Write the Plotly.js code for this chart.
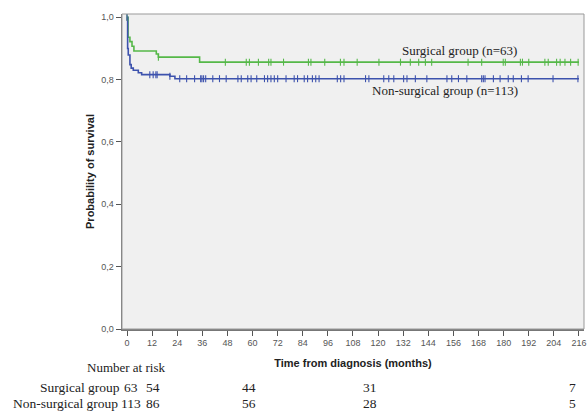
<!DOCTYPE html>
<html><head><meta charset="utf-8">
<script src="https://cdn.plot.ly/plotly-3.0.1.min.js"></script>
<style>html,body{margin:0;padding:0;background:#fff}#c{width:587px;height:411px}</style>
</head><body><div id="c"></div>
<script>
// Kaplan-Meier step curves (time in months, survival probability)
const surgTime = [0, 0.5, 1.4, 2.4, 3.3, 14, 15, 34.7, 216];
const surgSurv = [1, 0.936, 0.922, 0.907, 0.892, 0.882, 0.872, 0.856, 0.856];
const nonTime = [0, 0.3, 0.6, 1.4, 2, 3, 5.4, 7, 20.5, 22.9, 216];
const nonSurv = [1, 0.90, 0.879, 0.848, 0.837, 0.83, 0.822, 0.816, 0.811, 0.803, 0.803];
// censoring marks (months)
const surgCens = [0, 15, 47, 57, 58.5, 62.8, 67.7, 68.8, 74.8, 86.7, 87.9, 94.5, 102, 103.7, 110, 120.4, 130.7, 135.4, 139.4, 142.6, 145.6, 163, 169.5, 179.8, 180.8, 188, 189, 192, 199.7, 201.3, 205.3, 207, 209.3, 212, 215.6];
const nonCens = [0, 10.9, 12.5, 13.8, 14.4, 20.5, 25.2, 28.5, 32.3, 35.2, 35.8, 36.6, 37.6, 41, 44.2, 47.4, 53, 54.6, 57.7, 59.3, 62, 65.7, 67.2, 68.8, 70.4, 72, 76, 79.9, 81.5, 84.7, 86.3, 88.6, 90.2, 91.8, 100.5, 102.1, 103.7, 114, 115.6, 122.7, 125.1, 127.5, 132.2, 133.8, 137.8, 143.3, 152.9, 155.2, 158.4, 162.4, 169.5, 170.3, 171.1, 175.1, 178.3, 182.2, 184.6, 188.5, 191.7, 203.6, 215.5];
// number at risk table
const riskTimes = [2.0, 12.2, 58.5, 116.3, 213];
const riskSurg = [63, 54, 44, 31, 7];
const riskNon = [113, 86, 56, 28, 5];
const groupNames = ['Surgical group', 'Non-surgical group'];
const xTicks = [0,12,24,36,48,60,72,84,96,108,120,132,144,156,168,180,192,204,216];
const yTicks = [0,0.2,0.4,0.6,0.8,1.0];

const green = '#55b848', blue = '#3d52ad';
function stepAt(ts, ss, t){ let v = ss[0]; for (let i=0;i<ts.length;i++){ if (ts[i] <= t) v = ss[i]; } return v; }

const traces = [
 {x: surgTime, y: surgSurv, mode:'lines', line:{shape:'hv', color:green, width:1.6}, hoverinfo:'skip'},
 {x: nonTime, y: nonSurv, mode:'lines', line:{shape:'hv', color:blue, width:1.6}, hoverinfo:'skip'},
 {x: surgCens, y: surgCens.map(t=>stepAt(surgTime,surgSurv,t)), mode:'markers',
  marker:{symbol:'line-ns', size:5, line:{width:1.1, color:green}}, hoverinfo:'skip'},
 {x: nonCens, y: nonCens.map(t=>stepAt(nonTime,nonSurv,t)), mode:'markers',
  marker:{symbol:'line-ns', size:5, line:{width:1.1, color:blue}}, hoverinfo:'skip'}
];

const serif = {family:'Liberation Serif, Times New Roman, serif', size:13, color:'#222'};
const serifT = {family:'Liberation Serif, Times New Roman, serif', size:13.5, color:'#222'};
const rowY = [-0.187, -0.237];
const ann = [
 {x:158.7, y:0.895, xref:'x', yref:'y', text:'Surgical group (n=63)', showarrow:false, font:serif, xanchor:'center', yanchor:'middle'},
 {x:151.8, y:0.766, xref:'x', yref:'y', text:'Non-surgical group (n=113)', showarrow:false, font:serif, xanchor:'center', yanchor:'middle'},
 {x:0.009, y:-0.121, xref:'paper', yref:'paper', text:'Number at risk', showarrow:false, font:serif, xanchor:'center', yanchor:'middle'},
 {x:0.001, y:rowY[0], xref:'paper', yref:'paper', text:groupNames[0], showarrow:false, font:serifT, xanchor:'right', yanchor:'middle'},
 {x:-0.005, y:rowY[1], xref:'paper', yref:'paper', text:groupNames[1], showarrow:false, font:serifT, xanchor:'right', yanchor:'middle'}
];
riskTimes.forEach((t,i)=>{
 ann.push({x:t, y:rowY[0], xref:'x', yref:'paper', text:String(riskSurg[i]), showarrow:false, font:serifT, xanchor:'center', yanchor:'middle'});
 ann.push({x:t, y:rowY[1], xref:'x', yref:'paper', text:String(riskNon[i]), showarrow:false, font:serifT, xanchor:'center', yanchor:'middle'});
});

const layout = {
 width:587, height:411, margin:{l:122, r:3, t:14, b:82},
 paper_bgcolor:'#fff', plot_bgcolor:'#f0f0f0', showlegend:false,
 separators:',.',
 font:{family:'Liberation Sans, Arial, sans-serif'},
 xaxis:{range:[-2.39,218.4], tickvals:xTicks, ticktext:xTicks.map(String), ticks:'outside', ticklen:5, tickcolor:'#555',
   showgrid:false, zeroline:false, showline:true, linecolor:'#777', linewidth:1.5, mirror:false,
   ticklabeloverflow:'allow',
   tickfont:{size:9, color:'#555'},
   title:{text:'<b>Time from diagnosis (months)</b>', font:{size:11, color:'#222'}, standoff:12}},
 yaxis:{range:[0,1.0105], tickvals:yTicks, tickformat:'.1f', ticks:'outside', ticklen:5, tickcolor:'#555',
   showgrid:false, zeroline:false, showline:true, linecolor:'#777', linewidth:1.5,
   tickfont:{size:9, color:'#555'},
   title:{text:'<b>Probability of survival</b>', font:{size:11, color:'#222'}, standoff:4}},
 shapes:[{type:'rect', xref:'paper', yref:'paper', x0:0, x1:1, y0:0, y1:1, line:{color:'#999', width:1}}],
 annotations: ann
};
Plotly.newPlot('c', traces, layout, {staticPlot:true, displayModeBar:false});
</script></body></html>
